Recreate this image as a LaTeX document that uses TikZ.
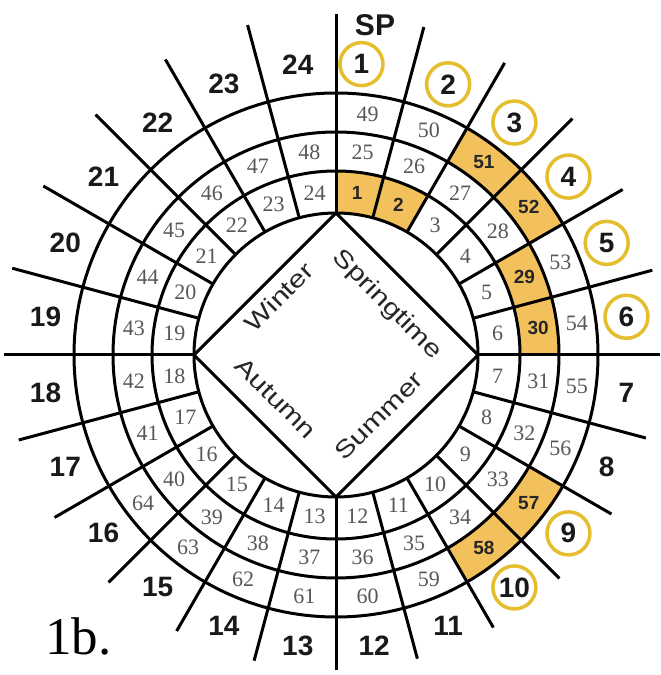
\documentclass[tikz,border=0pt]{standalone}
\usepackage{fontspec}
\setmainfont{Liberation Serif}
\newfontfamily\arialfont{Liberation Sans}
\definecolor{cellfill}{RGB}{243,193,92}
\definecolor{ringgold}{RGB}{228,190,45}
\definecolor{numgray}{RGB}{88,88,88}
\begin{document}
\begin{tikzpicture}[x=1pt,y=1pt,
  ringline/.style={line width=3pt, black, line join=round},
  cellnum/.style={font=\fontsize{22}{22}\selectfont, text=numgray, inner sep=0},
  hotnum/.style={font=\arialfont\bfseries\fontsize{19}{19}\selectfont, text=black!85, inner sep=0},
  outnum/.style={font=\arialfont\bfseries\fontsize{28}{28}\selectfont, text=black!90, inner sep=0},
  goldring/.style={draw=ringgold, line width=3.5pt, circle, minimum size=43pt},
  season/.style={font=\arialfont\fontsize{24}{24}\selectfont, text=black!85, inner sep=0}]
\useasboundingbox (0,0) rectangle (661,675);
\fill[white] (0,0) rectangle (661,675);
\begin{scope}[shift={(336,320)}]
  % highlighted cells
  \foreach \ri/\ro/\s in {142/184/1, 142/184/2, 223/262/3, 223/262/4, 184/223/5, 184/223/6, 223/262/9, 223/262/10}{
    \pgfmathsetmacro\a{90-15*\s}
    \pgfmathsetmacro\b{\a+15}
    \fill[cellfill] (\a:\ri) arc[start angle=\a, end angle=\b, radius=\ri]
      -- (\b:\ro) arc[start angle=\b, end angle=\a, radius=\ro] -- cycle;
  }
  % rings
  \foreach \r in {142,184,223,262}{
    \draw[ringline] (0,0) circle[radius=\r];
  }
  % radial lines
  \foreach \k in {0,...,23}{
    \pgfmathsetmacro\t{90-15*\k}
    \pgfmathsetmacro\L{328+13*sin(\t)-4*cos(\t)}
    \draw[ringline] (\t:142) -- (\t:\L);
  }
  % diamond
  \draw[ringline] (90:142) -- (0:142) -- (270:142) -- (180:142) -- cycle;
  % ring 1 numbers
  \foreach \k in {3,...,24}{
    \pgfmathsetmacro\m{97.5-15*\k}
    \node[cellnum] (n\k) at (\m:163) {\k};
  }
  \foreach \k in {1,2}{
    \pgfmathsetmacro\m{97.5-15*\k}
    \node[hotnum] (n\k) at (\m:163) {\k};
  }
  % ring 2 numbers
  \foreach \k in {1,2,3,4,7,8,...,24}{
    \pgfmathsetmacro\m{97.5-15*\k}
    \pgfmathtruncatemacro\n{24+\k}
    \node[cellnum] (n\n) at (\m:204) {\n};
  }
  \foreach \k in {5,6}{
    \pgfmathsetmacro\m{97.5-15*\k}
    \pgfmathtruncatemacro\n{24+\k}
    \node[hotnum] (n\n) at (\m:204) {\n};
  }
  % ring 3 numbers
  \foreach \k in {1,2,5,6,7,8,11,12,...,16}{
    \pgfmathsetmacro\m{97.5-15*\k}
    \pgfmathtruncatemacro\n{48+\k}
    \node[cellnum] (n\n) at (\m:243) {\n};
  }
  \foreach \k in {3,4,9,10}{
    \pgfmathsetmacro\m{97.5-15*\k}
    \pgfmathtruncatemacro\n{48+\k}
    \node[hotnum] (n\n) at (\m:243) {\n};
  }
  % outer labels
  \node[outnum, goldring] (o1) at (85:292) {1};
  \foreach \k in {2,...,6,9,10}{
    \pgfmathsetmacro\m{97.5-15*\k}
    \node[outnum, goldring] (o\k) at (\m:293) {\k};
  }
  \foreach \k in {7,8,11,12,...,24}{
    \pgfmathsetmacro\m{97.5-15*\k}
    \node[outnum] (o\k) at (\m:293) {\k};
  }
\end{scope}
\node[outnum, font=\arialfont\bfseries\fontsize{30}{30}\selectfont] (sp) at (375,650) {SP};
% seasons
\node[season, rotate=-45] (spring) at (387,370) {\scalebox{1.25}[1]{Springtime}};
\node[season, rotate=45] (summer) at (379,259) {\scalebox{1.25}[1]{Summer}};
\node[season, rotate=-45] (autumn) at (276,277) {\scalebox{1.25}[1]{Autumn}};
\node[season, rotate=45] (winter) at (279,378) {\scalebox{1.25}[1]{Winter}};
% caption
\node[anchor=base west, inner sep=0, font=\fontsize{53}{53}\selectfont] (cap) at (45,20) {1b.};
\end{tikzpicture}
\end{document}
